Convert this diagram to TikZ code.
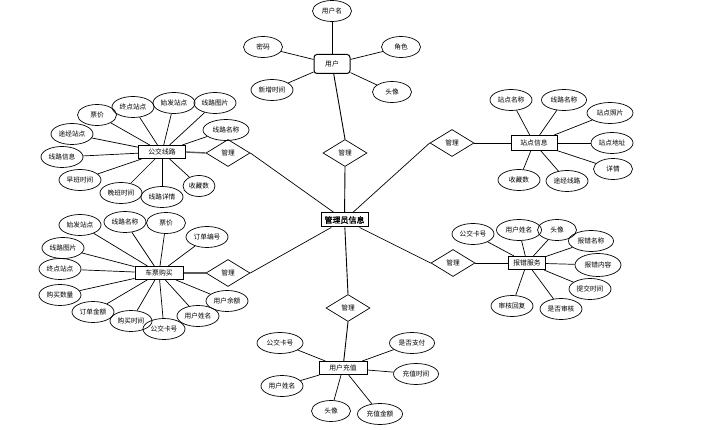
\documentclass[tikz,border=0pt]{standalone}
\usepackage{fontspec}
\newfontfamily\cjk{Noto Sans CJK SC}
\newfontfamily\cjkb[FakeBold=1.5]{Noto Sans CJK SC}
\usetikzlibrary{shapes.geometric}
\tikzset{
  attr/.style={ellipse,draw,line width=0.7pt,minimum width=42pt,minimum height=21pt,inner sep=0pt,font=\cjk\fontsize{6.7}{7}\selectfont},
  sattr/.style={attr,minimum width=39pt},
  ent/.style={rectangle,draw,line width=1pt,minimum height=13pt,inner sep=1pt,font=\cjk\fontsize{6.8}{7}\selectfont},
  rel/.style={diamond,draw,line width=0.7pt,minimum width=44pt,minimum height=27pt,inner sep=0pt,font=\cjk\fontsize{6.7}{7}\selectfont},
  lk/.style={line width=0.7pt},
  vlk/.style={line width=0.9pt},
  tlk/.style={line width=1.4pt,black!65}
}
\begin{document}
\begin{tikzpicture}[x=1pt,y=-1pt]
\useasboundingbox[fill=white] (0,0) rectangle (712,430);
% center
\node[ent,minimum width=47pt,minimum height=14pt,font=\cjkb\fontsize{8}{9}\selectfont] (adm) at (344.5,220) {管理员信息};
% user
\node[ent,rounded corners=3pt,minimum width=36pt,minimum height=19pt] (user) at (332,64) {用户};
\node[sattr] (u1) at (332,11) {用户名};
\node[sattr] (u2) at (263,47) {密码};
\node[sattr] (u3) at (401,47) {角色};
\node[attr] (u4) at (272,90) {新增时间};
\node[sattr] (u5) at (392,92) {头像};
\foreach \a in {u1,u2,u3,u4,u5} \draw[lk] (\a) -- (user);
% bus line
\node[ent,minimum width=47pt] (gj) at (162,152) {公交线路};
\node[sattr] (g1) at (97,115) {票价};
\node[attr] (g2) at (133,107) {终点站点};
\node[attr] (g3) at (174,103) {始发站点};
\node[attr] (g4) at (215,103) {线路图片};
\node[attr,minimum width=46pt] (g5) at (226,130) {线路名称};
\node[attr] (g6) at (72,134) {途经站点};
\node[attr] (g7) at (62,157) {线路信息};
\node[attr] (g8) at (80,180) {早班时间};
\node[attr] (g9) at (121,193) {晚班时间};
\node[attr] (g10) at (162,197) {线路详情};
\node[sattr,minimum width=32pt] (g11) at (199,186) {收藏数};
\foreach \a in {g1,g2,g3,g4,g5,g6,g7,g8,g9,g10,g11} \draw[lk] (\a) -- (gj);
% station
\node[ent,minimum width=46pt,minimum height=15pt] (zd) at (534,143) {站点信息};
\node[attr] (z1) at (511,100) {站点名称};
\node[attr,minimum width=45pt] (z2) at (564,100) {线路名称};
\node[attr,minimum width=46pt] (z3) at (610,113) {站点照片};
\node[attr] (z4) at (612,143) {站点地址};
\node[sattr] (z5) at (613,169) {详情};
\node[attr] (z6) at (519,180) {收藏数};
\node[attr] (z7) at (567,181) {途经线路};
\foreach \a in {z1,z2,z3,z4,z5,z6,z7} \draw[lk] (\a) -- (zd);
% ticket
\node[ent,minimum width=48pt] (cp) at (159,273) {车票购买};
\node[attr] (c1) at (80,225) {始发站点};
\node[attr] (c2) at (125,222) {线路名称};
\node[sattr] (c3) at (166,223) {票价};
\node[attr] (c4) at (207,237) {订单编号};
\node[attr] (c5) at (63,248) {线路图片};
\node[attr] (c6) at (60,269) {终点站点};
\node[attr] (c7) at (60,295) {购买数量};
\node[attr] (c8) at (93,312) {订单金额};
\node[attr] (c9) at (131,321) {购买时间};
\node[attr] (c10) at (164,329) {公交卡号};
\node[attr] (c11) at (198,316) {用户姓名};
\node[attr] (c12) at (227,301) {用户余额};
\foreach \a in {c1,c2,c3,c4,c5,c6,c7,c8,c9,c10,c11,c12} \draw[lk] (\a) -- (cp);
% error report
\node[ent,minimum width=37pt] (bc) at (527,263) {报错服务};
\node[attr] (b1) at (473,234) {公交卡号};
\node[attr,minimum width=45pt] (b2) at (519,230) {用户姓名};
\node[sattr] (b3) at (557,230) {头像};
\node[attr,minimum width=45pt] (b4) at (591,241) {报错名称};
\node[attr,minimum width=46pt,minimum height=23pt] (b5) at (598,265) {报错内容};
\node[attr] (b6) at (590,289) {提交时间};
\node[attr] (b7) at (512,306) {审核回复};
\node[attr] (b8) at (561,309) {是否审核};
\foreach \a in {b1,b2,b3,b4,b5,b6,b7,b8} \draw[lk] (\a) -- (bc);
% recharge
\node[ent,minimum width=48pt] (cz) at (343,368) {用户充值};
\node[attr,minimum width=46pt] (r1a) at (280,343) {公交卡号};
\node[attr,minimum width=45pt] (r2a) at (412,343) {是否支付};
\node[attr] (r3a) at (282,386) {用户姓名};
\node[attr,minimum width=45pt] (r4a) at (416,374) {充值时间};
\node[sattr] (r5a) at (331,411) {头像};
\node[attr,minimum width=45pt] (r6a) at (380,414) {充值金额};
\foreach \a in {r1a,r2a,r3a,r4a,r5a,r6a} \draw[lk] (\a) -- (cz);
% relations
\node[rel] (d1) at (345,153) {管理};
\node[rel] (d2) at (228,153) {管理};
\node[rel] (d3) at (228,273) {管理};
\node[rel] (d4) at (452,143) {管理};
\node[rel] (d5) at (453,263) {管理};
\node[rel] (d6) at (348,308) {管理};
\draw[vlk] (user) -- (d1.north);
\draw[vlk] (d1.south) -- (adm);
\draw[vlk] (d6.north) -- (adm);
\draw[vlk] (d6.south) -- (cz);
\draw[lk] (d2.east) -- (adm);
\draw[lk] (d3.east) -- (adm);
\draw[lk] (d4.west) -- (adm);
\draw[lk] (d5.west) -- (adm);
\draw[tlk] (gj.east) -- (d2.west);
\draw[tlk] (cp.east) -- (d3.west);
\draw[lk] (zd.west) -- (d4.east);
\draw[lk] (bc.west) -- (d5.east);
\end{tikzpicture}
\end{document}
